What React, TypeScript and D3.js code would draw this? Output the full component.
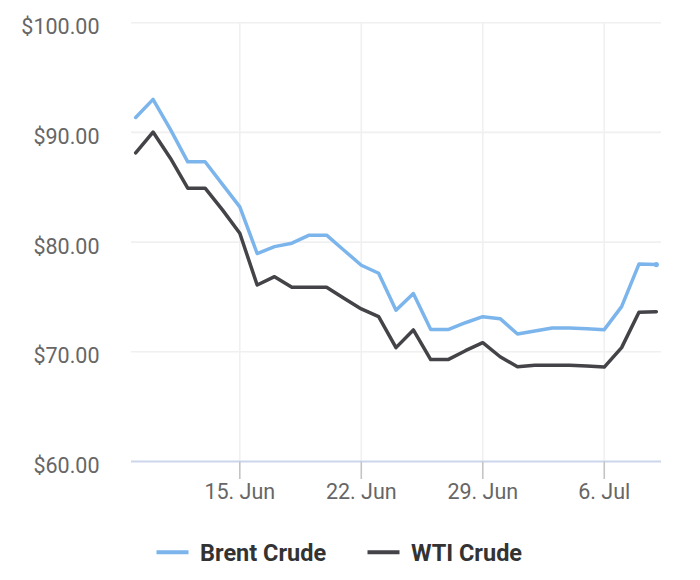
import React from "react";
import * as d3 from "d3";

const startDate = "2025-06-09";
const brent = [
  91.36, 93.01, 90.27, 87.32, 87.32, 85.26, 83.21, 78.96, 79.59, 79.9, 80.63,
  80.63, 79.26, 77.89, 77.16, 73.79, 75.31, 72.03, 72.03, 72.65, 73.2, 73.02,
  71.62, 71.9, 72.17, 72.17, 72.11, 72.02, 74.12, 78.0, 77.95,
];
const wti = [
  88.14, 90.03, 87.65, 84.92, 84.92, 82.94, 80.81, 76.09, 76.85, 75.88, 75.88,
  75.88, 74.88, 73.91, 73.2, 70.38, 71.99, 69.29, 69.29, 70.1, 70.83, 69.55,
  68.64, 68.77, 68.77, 68.77, 68.7, 68.61, 70.38, 73.6, 73.66,
];
const seriesNames = ["Brent Crude", "WTI Crude"];
const seriesColors = ["#7cb5ec", "#434348"];
const xTickDates = ["2025-06-15", "2025-06-22", "2025-06-29", "2025-07-06"];
const xTickLabels = ["15. Jun", "22. Jun", "29. Jun", "6. Jul"];
const yTicks = [60, 70, 80, 90, 100];

const DAY = 86400000;
const parse = (s: string) => new Date(s + "T00:00:00Z");
const t0 = parse(startDate).getTime();
const dates = brent.map((_, i) => new Date(t0 + i * DAY));

export default function App() {
  const W = 700;
  const H = 580;
  const plotL = 131;
  const plotR = 661;
  const plotT = 22.7;
  const plotB = 461.5;

  const pad = 0.27 * DAY;
  const x = d3
    .scaleUtc()
    .domain([new Date(t0 - pad), new Date(t0 + 30 * DAY + pad)])
    .range([plotL, plotR]);
  const y = d3.scaleLinear().domain([60, 100]).range([plotB, plotT]);

  const line = d3
    .line<number>()
    .x((_, i) => x(dates[i]))
    .y((d) => y(d));

  const fmt = (v: number) => "$" + d3.format(".2f")(v);
  const font = "Roboto, 'Noto Sans', sans-serif";
  const data = [brent, wti];

  const legendX = [156.5, 367.5];

  return (
    <svg
      width={W}
      height={H}
      style={{ position: "absolute", left: 0, top: 0, background: "#fff" }}
      fontFamily={font}
    >
      <rect width={W} height={H} fill="#fff" />
      {yTicks
        .filter((t) => t !== 60)
        .map((t) => (
          <line
            key={"h" + t}
            x1={plotL}
            x2={plotR}
            y1={y(t)}
            y2={y(t)}
            stroke="#f0f0f0"
            strokeWidth={1.6}
          />
        ))}
      {xTickDates.map((d) => (
        <line
          key={"v" + d}
          x1={x(parse(d))}
          x2={x(parse(d))}
          y1={plotT}
          y2={plotB}
          stroke="#f0f0f0"
          strokeWidth={1.6}
        />
      ))}
      <line
        x1={plotL}
        x2={plotR}
        y1={plotB}
        y2={plotB}
        stroke="#ccd6eb"
        strokeWidth={1.8}
      />
      {xTickDates.map((d, i) => (
        <g key={"t" + d}>
          <line
            x1={x(parse(d))}
            x2={x(parse(d))}
            y1={plotB}
            y2={plotB + 17.5}
            stroke="#c4c4c4"
            strokeWidth={1.6}
          />
          <text
            x={x(parse(d))}
            y={plotB + 37.8}
            textAnchor="middle"
            fontSize={21.5}
            fill="#666666"
          >
            {xTickLabels[i]}
          </text>
        </g>
      ))}
      {yTicks.map((t) => (
        <text
          key={"y" + t}
          x={99.5}
          y={y(t) + 11.6}
          textAnchor="end"
          fontSize={21.5}
          fill="#666666"
        >
          {fmt(t)}
        </text>
      ))}
      {data.map((s, k) => (
        <path
          key={"s" + k}
          d={line(s) || ""}
          fill="none"
          stroke={seriesColors[k]}
          strokeWidth={3.5}
          strokeLinejoin="round"
          strokeLinecap="round"
        />
      ))}
      <circle
        cx={x(dates[brent.length - 1])}
        cy={y(brent[brent.length - 1])}
        r={2.6}
        fill={seriesColors[0]}
      />
      {seriesNames.map((n, k) => (
        <g key={"l" + k}>
          <line
            x1={legendX[k]}
            x2={legendX[k] + 32}
            y1={552.3}
            y2={552.3}
            stroke={seriesColors[k]}
            strokeWidth={4}
          />
          <text
            x={legendX[k] + 43.5}
            y={560.9}
            fontSize={23.5}
            fontWeight="bold"
            fill="#333333"
          >
            {n}
          </text>
        </g>
      ))}
    </svg>
  );
}
